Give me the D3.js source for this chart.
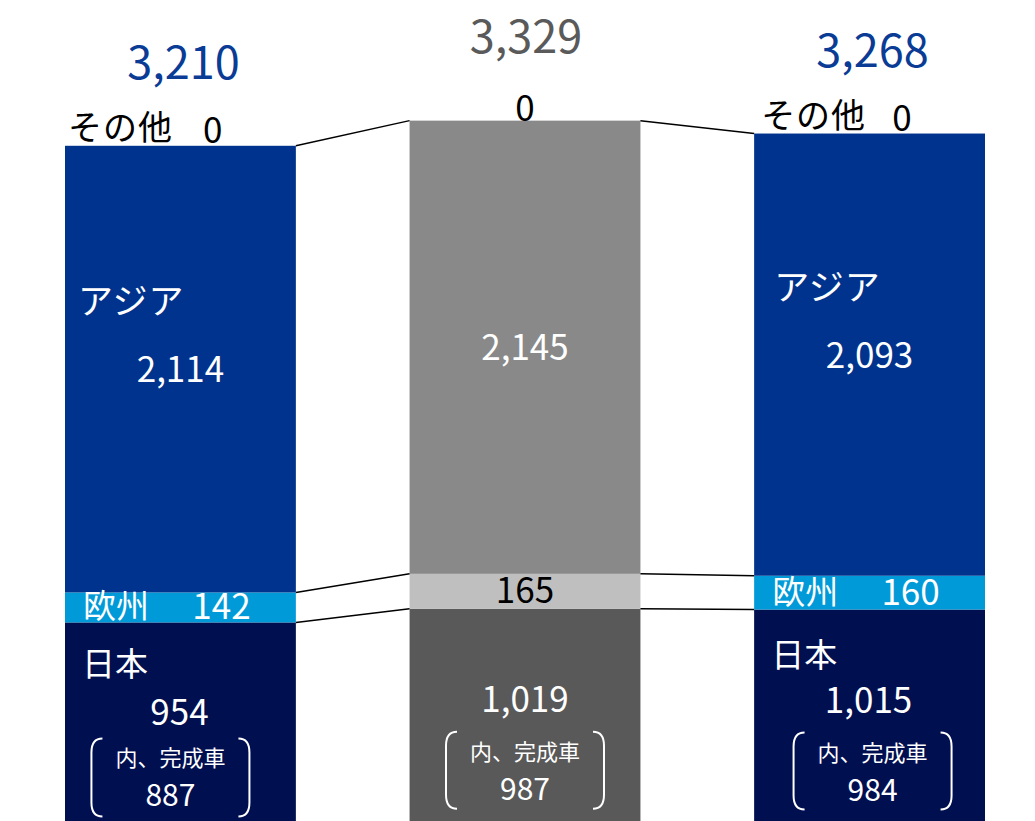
<!DOCTYPE html>
<html lang="ja">
<head>
<meta charset="UTF-8">
<style>
	body { margin: 0; background: #fff; }
	svg text { font-family: "Noto Sans CJK JP", "Noto Sans", sans-serif; }
</style>
<script src="https://d3js.org/d3.v7.min.js"></script>
</head>
<body>
<div id="chart"></div>
<script>
// values
const periods = ["p1", "p2", "p3"];
const japan = [954, 1019, 1015];
const europe = [142, 165, 160];
const asia = [2114, 2145, 2093];
const other = [0, 0, 0];
const totals = [3210, 3329, 3268];
const completed = [887, 987, 984];
const totalLabels = ["3,210", "3,329", "3,268"];
const japanLabels = ["954", "1,019", "1,015"];
const europeLabels = ["142", "165", "160"];
const asiaLabels = ["2,114", "2,145", "2,093"];
const completedLabels = ["887", "987", "984"];

// bar 2 is drawn in greys, bars 1 and 3 in blues
const palette = [
	{ japan: "#000F50", europe: "#009AD9", asia: "#00338D", total: "#0A3C96", mid: "#fff" },
	{ japan: "#595959", europe: "#BFBFBF", asia: "#898989", total: "#5A5A5A", mid: "#000" },
	{ japan: "#000F50", europe: "#009AD9", asia: "#00338D", total: "#0A3C96", mid: "#fff" }
];

const width = 1035, height = 821;
const svg = d3.select("#chart").append("svg")
	.attr("width", width)
	.attr("height", height);

const x = d3.scaleBand().domain(periods).range([65, 985]).paddingInner(0.33).paddingOuter(0);
const y = d3.scaleLinear().domain([0, 3900]).range([824, 0]);

const stackData = periods.map((p, i) => ({ key: p, japan: japan[i], europe: europe[i], asia: asia[i], other: other[i] }));
const series = d3.stack().keys(["japan", "europe", "asia", "other"])(stackData);

// bars
series.forEach(s => {
	svg.append("g").selectAll("rect")
		.data(s)
		.join("rect")
		.attr("x", d => x(d.data.key))
		.attr("width", x.bandwidth())
		.attr("y", d => y(d[1]))
		.attr("height", d => y(d[0]) - y(d[1]))
		.attr("fill", (d, i) => s.key === "other" ? "none" : palette[i][s.key]);
});

// connector lines between neighbouring bars
const bounds = [
	(i) => japan[i],
	(i) => japan[i] + europe[i],
	(i) => japan[i] + europe[i] + asia[i]
];
for (let i = 0; i < periods.length - 1; i++) {
	bounds.forEach(b => {
		svg.append("line")
			.attr("x1", x(periods[i]) + x.bandwidth())
			.attr("x2", x(periods[i + 1]))
			.attr("y1", y(b(i)))
			.attr("y2", y(b(i + 1)))
			.attr("stroke", "#000")
			.attr("stroke-width", 1.5);
	});
}

const bw = x.bandwidth();
periods.forEach((p, i) => {
	const x0 = x(p), cx = x0 + bw / 2;
	const side = i !== 1; // bars with category names
	const top = y(totals[i]);
	const g = svg.append("g");

	// total above the bar
	g.append("text")
		.attr("x", cx + (side ? 3 : 1))
		.attr("y", top - (side ? 67 : 68))
		.attr("text-anchor", "middle")
		.attr("font-size", 45)
		.attr("fill", palette[i].total)
		.text(totalLabels[i]);

	// other
	if (side) {
		g.append("text")
			.attr("x", x0 + (i === 0 ? 3 : 7))
			.attr("y", top - 6)
			.attr("font-size", 34)
			.attr("letter-spacing", 1)
			.attr("fill", "#000")
			.text("その他");
	}
	g.append("text")
		.attr("x", side ? x0 + bw * 0.64 : cx)
		.attr("y", top - (side ? 3 : 0))
		.attr("text-anchor", "middle")
		.attr("font-size", 35)
		.attr("fill", "#000")
		.text(other[i]);

	// asia
	const asiaMid = (y(japan[i] + europe[i]) + top) / 2;
	if (side) {
		g.append("text")
			.attr("x", x0 + (i === 0 ? 13 : 20))
			.attr("y", asiaMid - 55)
			.attr("font-size", 35)
			.attr("letter-spacing", 1)
			.attr("fill", "#fff")
			.text("アジア");
	}
	g.append("text")
		.attr("x", cx)
		.attr("y", asiaMid + 13)
		.attr("text-anchor", "middle")
		.attr("font-size", 35)
		.attr("fill", "#fff")
		.text(asiaLabels[i]);

	// europe
	const euMid = (y(japan[i]) + y(japan[i] + europe[i])) / 2;
	if (side) {
		g.append("text")
			.attr("x", x0 + 18)
			.attr("y", euMid + 11)
			.attr("font-size", 33)
			.attr("fill", "#fff")
			.text("欧州");
	}
	g.append("text")
		.attr("x", side ? cx + 41 : cx)
		.attr("y", euMid + 12)
		.attr("text-anchor", "middle")
		.attr("font-size", 35)
		.attr("fill", palette[i].mid)
		.text(europeLabels[i]);

	// japan
	const jTop = y(japan[i]);
	if (side) {
		g.append("text")
			.attr("x", x0 + 17)
			.attr("y", jTop + (i === 0 ? 54 : 57))
			.attr("font-size", 33)
			.attr("fill", "#fff")
			.text("日本");
	}
	g.append("text")
		.attr("x", cx - (side ? 1 : 0))
		.attr("y", jTop + 103)
		.attr("text-anchor", "middle")
		.attr("font-size", 35)
		.attr("fill", "#fff")
		.text(japanLabels[i]);

	// completed vehicles, in brackets
	const bx = i === 0 ? cx - 10 : cx + (i === 1 ? 0 : 3);
	const by0 = jTop + (i === 0 ? 116 : 123), by1 = jTop + (i === 0 ? 194 : 200);
	const half = 79;
	const r = 11;
	g.append("path")
		.attr("d", `M${bx - half + r},${by0} Q${bx - half},${by0} ${bx - half},${by0 + 14} L${bx - half},${by1 - 14} Q${bx - half},${by1} ${bx - half + r},${by1}`)
		.attr("fill", "none").attr("stroke", "#fff").attr("stroke-width", 2);
	g.append("path")
		.attr("d", `M${bx + half - r},${by0} Q${bx + half},${by0} ${bx + half},${by0 + 14} L${bx + half},${by1 - 14} Q${bx + half},${by1} ${bx + half - r},${by1}`)
		.attr("fill", "none").attr("stroke", "#fff").attr("stroke-width", 2);
	g.append("text")
		.attr("x", bx)
		.attr("y", by0 + 28)
		.attr("text-anchor", "middle")
		.attr("font-size", 22)
		.attr("fill", "#fff")
		.text("内、完成車");
	g.append("text")
		.attr("x", bx)
		.attr("y", by0 + 68)
		.attr("text-anchor", "middle")
		.attr("font-size", 30)
		.attr("fill", "#fff")
		.text(completedLabels[i]);
});
</script>
</body>
</html>
